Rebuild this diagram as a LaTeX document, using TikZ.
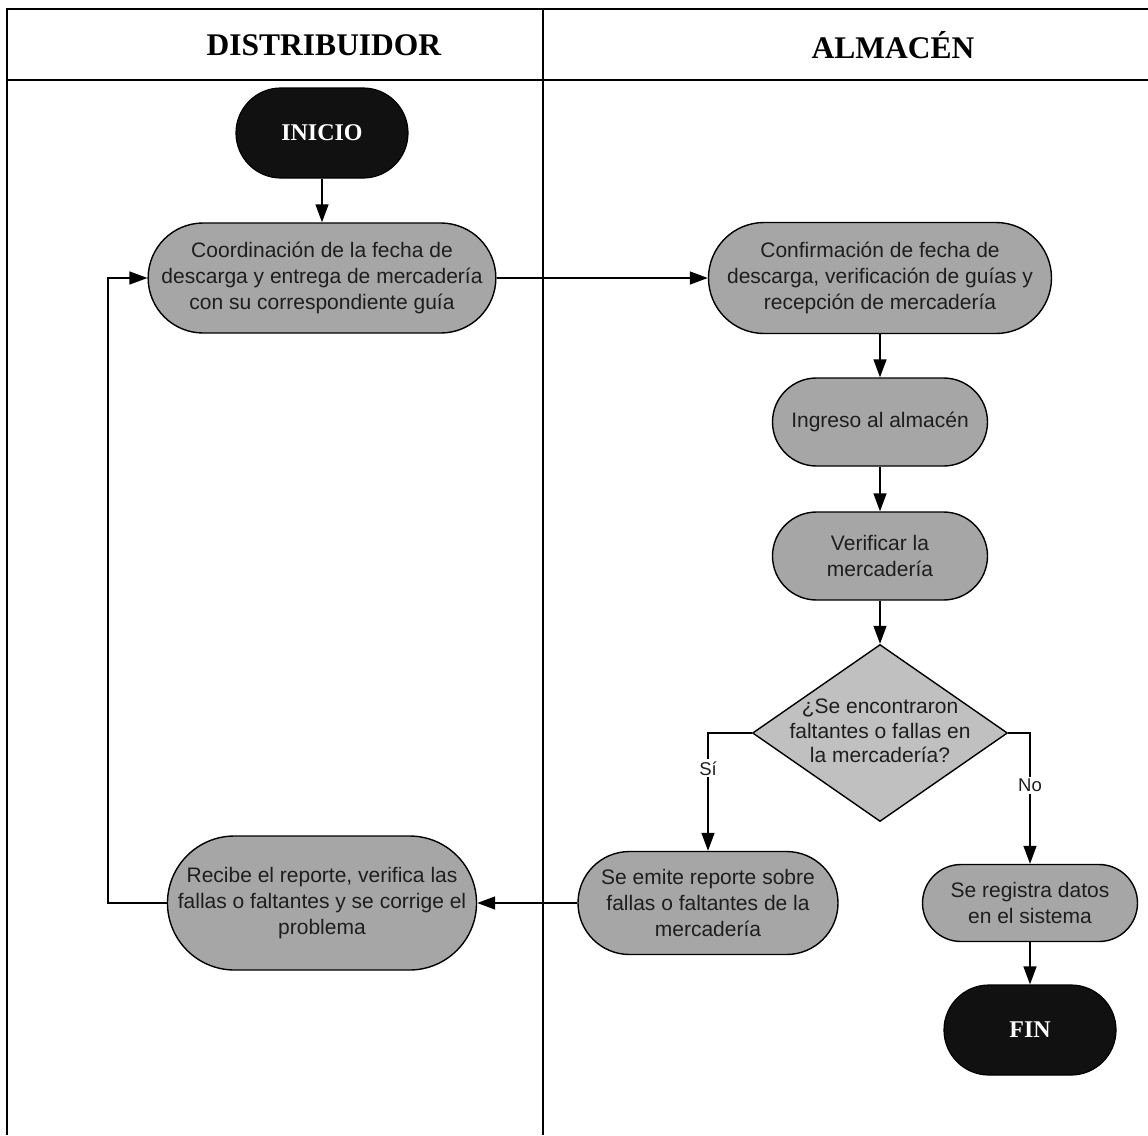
\documentclass[tikz,border=0pt]{standalone}
\usepackage{fontspec}
\setmainfont{Liberation Sans}
\newfontfamily\serifbold{Liberation Serif}
\usetikzlibrary{shapes.misc,shapes.geometric,arrows.meta}
\definecolor{procgray}{HTML}{A6A6A6}
\definecolor{decgray}{HTML}{C0C0C0}
\definecolor{termblack}{HTML}{111111}
\definecolor{txtdark}{HTML}{1E1E1E}
\begin{document}
\begin{tikzpicture}[x=1pt,y=-1pt,
  tbl/.style={line width=2pt,black},
  hdr/.style={font=\serifbold\bfseries\fontsize{31.5}{36}\selectfont,inner sep=0pt},
  term/.style={rounded rectangle,draw=black,line width=1.2pt,fill=termblack,text=white,
    font=\serifbold\bfseries\fontsize{24}{28}\selectfont,minimum width=172pt,minimum height=90pt,inner sep=0pt},
  proc/.style={rounded rectangle,draw=black,line width=1.4pt,fill=procgray,text=txtdark,
    font=\fontsize{21}{26}\selectfont,align=center,inner sep=0pt},
  decision/.style={diamond,draw=black,line width=1.4pt,fill=decgray,inner sep=0pt,
    minimum width=255pt,minimum height=177pt},
  dectxt/.style={text=txtdark,font=\fontsize{21}{24.5}\selectfont,align=center,inner sep=0pt},
  conn/.style={line width=1.4pt,-{Triangle[length=18pt,width=13pt]}},
  lbl/.style={fill=white,text=txtdark,font=\fontsize{18.5}{22}\selectfont,inner sep=2pt}
]
\useasboundingbox (0,0) rectangle (1148,1135);
% table
\draw[tbl] (7,9) -- (1148,9);
\draw[tbl] (7,80) -- (1148,80);
\draw[tbl] (7,8) -- (7,1135);
\draw[tbl] (543,9) -- (543,1135);
\node[hdr] (h1) at (324,45) {DISTRIBUIDOR};
\node[hdr] (h2) at (893,45) {ALMACÉN};
% nodes
\node[term] (inicio) at (322,133) {INICIO};
\node[proc,minimum width=340pt,minimum height=110pt] (coord) at (322,278)
  {Coordinación de la fecha de\\descarga y entrega de mercadería\\con su correspondiente guía};
\node[proc,minimum width=343pt,minimum height=111pt] (confirm) at (880,278)
  {Confirmación de fecha de\\descarga, verificación de guías y\\recepción de mercadería};
\node[proc,minimum width=215pt,minimum height=88pt] (ingreso) at (880,422) {Ingreso al almacén};
\node[proc,minimum width=215pt,minimum height=88pt] (verif) at (880,556) {Verificar la\\mercadería};
\node[decision] (dec) at (880,733) {};
\node[dectxt] (dectext) at (880,731) {¿Se encontraron\\faltantes o fallas en\\la mercadería?};
\node[proc,minimum width=260pt,minimum height=103pt] (emite) at (708,903)
  {Se emite reporte sobre\\fallas o faltantes de la\\mercadería};
\node[proc,minimum width=302pt,minimum height=134pt] (recibe) at (322,903)
  {Recibe el reporte, verifica las\\fallas o faltantes y se corrige el\\problema};
\node[proc,minimum width=215pt,minimum height=77pt] (registra) at (1030,903)
  {Se registra datos\\en el sistema};
\node[term] (fin) at (1030,1030) {FIN};
\coordinate (loopx) at (108,0);
% connectors
\draw[conn] (inicio.south) -- (coord.north);
\draw[conn] (coord.east) -- (confirm.west);
\draw[conn] (confirm.south) -- (ingreso.north);
\draw[conn] (ingreso.south) -- (verif.north);
\draw[conn] (verif.south) -- (dec.north);
\draw[conn] (dec.west) -| node[lbl,pos=0.65] {Sí} (emite.north);
\draw[conn] (dec.east) -| node[lbl,pos=0.70] {No} (registra.north);
\draw[conn] (registra.south) -- (fin.north);
\draw[conn] (emite.west) -- (recibe.east);
\draw[conn] (recibe.west) -- (recibe.west -| loopx) |- (coord.west);
\end{tikzpicture}
\end{document}
